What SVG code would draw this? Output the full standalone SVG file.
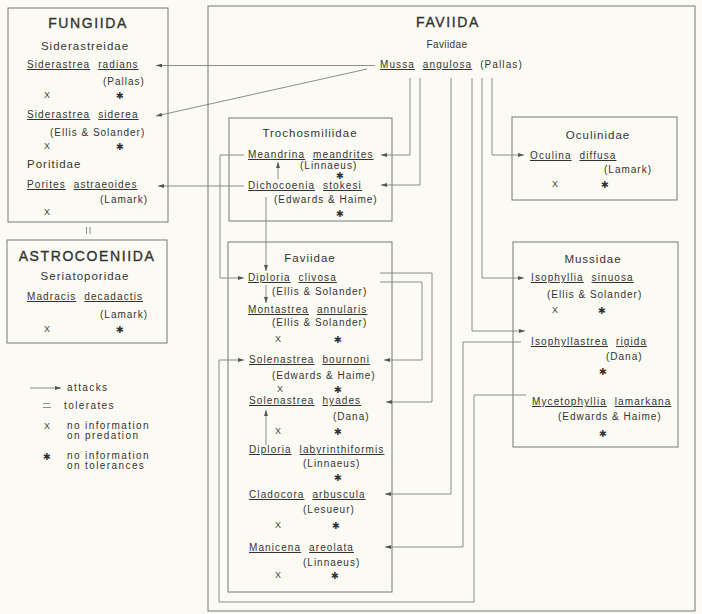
<svg xmlns="http://www.w3.org/2000/svg" width="702" height="614" viewBox="0 0 702 614">
<style>
.t{font-family:"Liberation Sans",Arial,sans-serif;fill:#333}
.ttl{font-size:14px;letter-spacing:1.6px;stroke:#333;stroke-width:0.35}
.fam{font-size:11.5px;letter-spacing:1px}
.fs{font-size:10px;letter-spacing:0.4px}
.sp{font-size:10px;letter-spacing:1.1px;word-spacing:4px}
.au{font-size:10px;letter-spacing:1px}
.lg{font-size:10px;letter-spacing:1.4px}
.u{text-decoration:underline}
.mk{font-family:"Liberation Sans",Arial,sans-serif;fill:#444;font-size:9px;text-anchor:middle}
.st{font-family:"DejaVu Sans",sans-serif;fill:#333;font-size:9.5px;text-anchor:middle}
.mid{text-anchor:middle}
.box{fill:none;stroke:#777;stroke-width:1}
.cn{fill:none;stroke:#808080;stroke-width:0.9;marker-end:url(#ah)}
.cn0{fill:none;stroke:#808080;stroke-width:0.9}
</style>
<defs>
<marker id="ah" viewBox="0 0 6 4" refX="6" refY="2" markerWidth="6" markerHeight="4" orient="auto" markerUnits="userSpaceOnUse"><path d="M0,0 L6,2 L0,4 z" fill="#555"/></marker>
</defs>
<rect width="702" height="614" fill="#fbfbf3"/>

<g id="fungiida">
<rect class="box" x="8" y="8" width="160" height="214"/>
<text class="t ttl mid" x="88" y="28">FUNGIIDA</text>
<text class="t fam mid" x="85" y="50">Siderastreidae</text>
<g id="siderastrea-radians">
<text class="t sp" x="27" y="68"><tspan class="u">Siderastrea</tspan> <tspan class="u">radians</tspan></text>
<text class="t au" x="103" y="85">(Pallas)</text>
<text class="mk" x="47" y="98">X</text><text class="st" x="120" y="99">✱</text>
</g>
<g id="siderastrea-siderea">
<text class="t sp" x="27" y="118"><tspan class="u">Siderastrea</tspan> <tspan class="u">siderea</tspan></text>
<text class="t au" x="50" y="136">(Ellis &amp; Solander)</text>
<text class="mk" x="47" y="149">X</text><text class="st" x="120" y="150">✱</text>
</g>
<text class="t fam" x="27" y="168">Poritidae</text>
<g id="porites-astraeoides">
<text class="t sp" x="27" y="188"><tspan class="u">Porites</tspan> <tspan class="u">astraeoides</tspan></text>
<text class="t au" x="100" y="203">(Lamark)</text>
<text class="mk" x="47" y="215">X</text>
</g>
</g>

<g id="tolerates-mark">
<line class="cn0" x1="86.5" y1="227" x2="86.5" y2="234"/>
<line class="cn0" x1="90" y1="227" x2="90" y2="234"/>
</g>

<g id="astrocoeniida">
<rect class="box" x="7" y="240" width="160" height="103"/>
<text class="t ttl mid" x="87" y="261">ASTROCOENIIDA</text>
<text class="t fam mid" x="85" y="280">Seriatoporidae</text>
<g id="madracis-decadactis">
<text class="t sp" x="27" y="300"><tspan class="u">Madracis</tspan> <tspan class="u">decadactis</tspan></text>
<text class="t au" x="100" y="318">(Lamark)</text>
<text class="mk" x="47" y="332">X</text><text class="st" x="120" y="333">✱</text>
</g>
</g>

<g id="legend">
<line class="cn" x1="30" y1="388" x2="61" y2="388"/>
<text class="t lg" x="67" y="391">attacks</text>
<line class="cn0" x1="43" y1="403.5" x2="50" y2="403.5"/>
<line class="cn0" x1="43" y1="407.5" x2="51" y2="407.5"/>
<text class="t lg" x="64" y="409">tolerates</text>
<text class="mk" x="47" y="429">X</text>
<text class="t lg" x="67" y="428.5">no information</text>
<text class="t lg" x="67" y="438.5">on predation</text>
<text class="st" x="47" y="460">✱</text>
<text class="t lg" x="67" y="458.5">no information</text>
<text class="t lg" x="67" y="468.5">on tolerances</text>
</g>

<g id="faviida">
<rect class="box" x="208" y="6" width="487" height="605"/>
<text class="t ttl mid" x="448" y="27">FAVIIDA</text>
<text class="t fs mid" x="447" y="48">Faviidae</text>
<g id="mussa-angulosa">
<text class="t sp" x="380" y="68"><tspan class="u">Mussa</tspan> <tspan class="u">angulosa</tspan> (Pallas)</text>
</g>

<g id="trochosmiliidae">
<rect class="box" x="229" y="118" width="163" height="103"/>
<text class="t fam mid" x="310" y="137">Trochosmiliidae</text>
<g id="meandrina-meandrites">
<text class="t sp" x="248" y="158"><tspan class="u">Meandrina</tspan> <tspan class="u">meandrites</tspan></text>
<text class="t au" x="300" y="169">(Linnaeus)</text>
<text class="st" x="340" y="179">✱</text>
</g>
<g id="dichocoenia-stokesi">
<text class="t sp" x="248" y="189"><tspan class="u">Dichocoenia</tspan> <tspan class="u">stokesi</tspan></text>
<text class="t au" x="274" y="203">(Edwards &amp; Haime)</text>
<text class="st" x="340" y="217">✱</text>
</g>
</g>

<g id="faviidae">
<rect class="box" x="228" y="242" width="164" height="350"/>
<text class="t fam mid" x="310" y="262">Faviidae</text>
<g id="diploria-clivosa">
<text class="t sp" x="248" y="281"><tspan class="u">Diploria</tspan> <tspan class="u">clivosa</tspan></text>
<text class="t au" x="272" y="295">(Ellis &amp; Solander)</text>
</g>
<g id="montastrea-annularis">
<text class="t sp" x="248" y="313"><tspan class="u">Montastrea</tspan> <tspan class="u">annularis</tspan></text>
<text class="t au" x="272" y="326">(Ellis &amp; Solander)</text>
<text class="mk" x="278" y="342">X</text><text class="st" x="338" y="343">✱</text>
</g>
<g id="solenastrea-bournoni">
<text class="t sp" x="249" y="363"><tspan class="u">Solenastrea</tspan> <tspan class="u">bournoni</tspan></text>
<text class="t au" x="272" y="379">(Edwards &amp; Haime)</text>
<text class="mk" x="280" y="392">X</text><text class="st" x="338" y="393">✱</text>
</g>
<g id="solenastrea-hyades">
<text class="t sp" x="249" y="404"><tspan class="u">Solenastrea</tspan> <tspan class="u">hyades</tspan></text>
<text class="t au" x="333" y="420">(Dana)</text>
<text class="mk" x="278" y="434">X</text><text class="st" x="338" y="435">✱</text>
</g>
<g id="diploria-labyrinthiformis">
<text class="t sp" x="249" y="453"><tspan class="u">Diploria</tspan> <tspan class="u">labyrinthiformis</tspan></text>
<text class="t au" x="303" y="467">(Linnaeus)</text>
<text class="st" x="338" y="481">✱</text>
</g>
<g id="cladocora-arbuscula">
<text class="t sp" x="249" y="498"><tspan class="u">Cladocora</tspan> <tspan class="u">arbuscula</tspan></text>
<text class="t au" x="303" y="513">(Lesueur)</text>
<text class="mk" x="278" y="528">X</text><text class="st" x="336" y="529">✱</text>
</g>
<g id="manicena-areolata">
<text class="t sp" x="249" y="551"><tspan class="u">Manicena</tspan> <tspan class="u">areolata</tspan></text>
<text class="t au" x="303" y="566">(Linnaeus)</text>
<text class="mk" x="278" y="578">X</text><text class="st" x="335" y="579">✱</text>
</g>
</g>

<g id="oculinidae">
<rect class="box" x="512" y="117" width="165" height="83"/>
<text class="t fam mid" x="598" y="139">Oculinidae</text>
<g id="oculina-diffusa">
<text class="t sp" x="530" y="159"><tspan class="u">Oculina</tspan> <tspan class="u">diffusa</tspan></text>
<text class="t au" x="604" y="173">(Lamark)</text>
<text class="mk" x="555" y="187">X</text><text class="st" x="605" y="188">✱</text>
</g>
</g>

<g id="mussidae">
<rect class="box" x="513" y="242" width="165" height="205"/>
<text class="t fam mid" x="593" y="263">Mussidae</text>
<g id="isophyllia-sinuosa">
<text class="t sp" x="531" y="281"><tspan class="u">Isophyllia</tspan> <tspan class="u">sinuosa</tspan></text>
<text class="t au" x="547" y="298">(Ellis &amp; Solander)</text>
<text class="mk" x="555" y="313">X</text><text class="st" x="602" y="314">✱</text>
</g>
<g id="isophyllastrea-rigida">
<text class="t sp" x="531" y="345"><tspan class="u">Isophyllastrea</tspan> <tspan class="u">rigida</tspan></text>
<text class="t au" x="606" y="360">(Dana)</text>
<text class="st" x="603" y="375">✱</text>
</g>
<g id="mycetophyllia-lamarkana">
<text class="t sp" x="532" y="405"><tspan class="u">Mycetophyllia</tspan> <tspan class="u">lamarkana</tspan></text>
<text class="t au" x="558" y="420">(Edwards &amp; Haime)</text>
<text class="st" x="603" y="437">✱</text>
</g>
</g>
</g>

<g id="connectors">
<path class="cn" d="M375,65.5 H156"/>
<path class="cn" d="M367,69 L156,116"/>
<path class="cn" d="M410,78 V155 H381"/>
<path class="cn" d="M420,78 V185 H381"/>
<path class="cn" d="M451,78 V494 H385"/>
<path class="cn" d="M472,78 V331 H525"/>
<path class="cn" d="M482,78 V278 H524"/>
<path class="cn" d="M492,78 V155 H524"/>
<path class="cn" d="M244,186 H158"/>
<path class="cn" d="M278,179 V162"/>
<path class="cn" d="M266,197 V271"/>
<path class="cn" d="M244,155 H220 V278 H244"/>
<path class="cn" d="M266,285 V303"/>
<path class="cn" d="M380,282 H422 V360 H384"/>
<path class="cn" d="M380,273 H432 V402 H386"/>
<path class="cn" d="M266,445 V410"/>
<path class="cn" d="M521,342 H463 V547 H385"/>
<path class="cn" d="M526,395 H474 V602 H219 V360 H244"/>
</g>
</svg>
